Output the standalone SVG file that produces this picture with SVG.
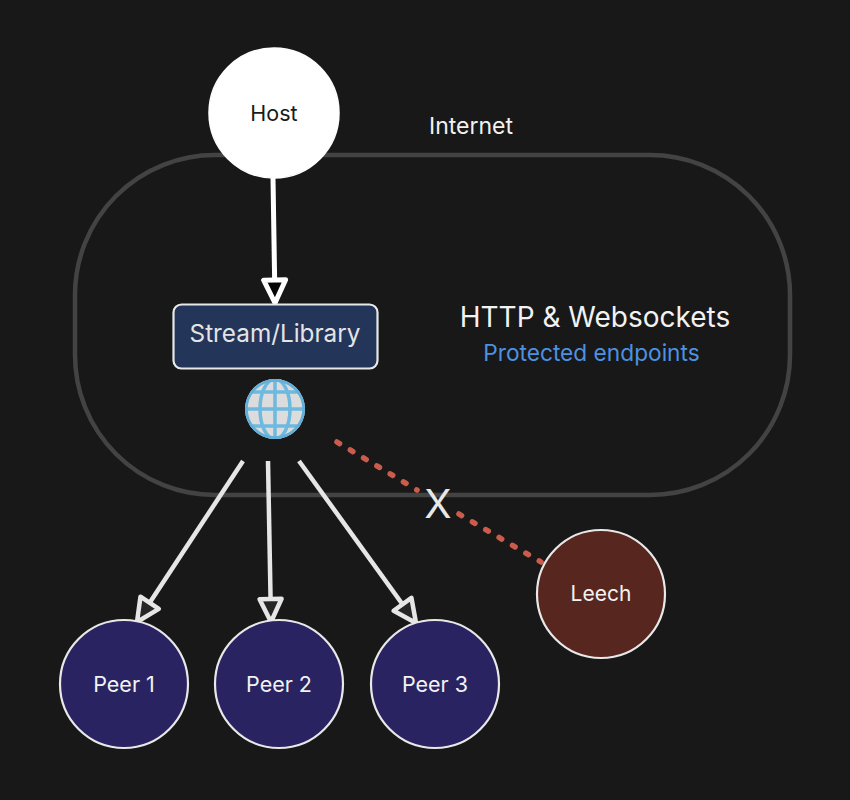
<svg xmlns="http://www.w3.org/2000/svg" width="850" height="800" viewBox="0 0 850 800">
<style>
text{font-family:Inter,"Liberation Sans",sans-serif;text-anchor:middle;fill:#f2f2f2}
.n{stroke:#e8e8e8;stroke-width:2.200}
.lbl{font-size:21.500px}
.a{stroke:#e6e6e6;stroke-width:4.500;fill:none;marker-end:url(#ah)}
.d{stroke:#cb5c4c;stroke-width:5.500;fill:none;stroke-linecap:round;stroke-dasharray:3 12.5}
.g{fill:none;stroke:#6db9e0;stroke-width:3.500}
</style>
<defs>
<marker id="ah" markerUnits="userSpaceOnUse" markerWidth="34" markerHeight="34" refX="26" refY="14" orient="auto" viewBox="0 0 34 28">
<path d="M3 3L26 14L3 25Z" fill="#262626" stroke="#e6e6e6" stroke-width="4.500" stroke-linejoin="round"/>
</marker>
<marker id="ahw" markerUnits="userSpaceOnUse" markerWidth="34" markerHeight="34" refX="26" refY="14" orient="auto" viewBox="0 0 34 28">
<path d="M3 3L26 14L3 25Z" fill="#050505" stroke="#fff" stroke-width="5" stroke-linejoin="round"/>
</marker>
<clipPath id="gc"><circle cx="275" cy="409" r="30"/></clipPath>
</defs>
<rect width="850" height="800" fill="#181818"/>
<g id="internet">
<rect x="75" y="155" width="715" height="340" rx="140" ry="140" fill="none" stroke="#434343" stroke-width="4.500"/>
<text x="471" y="134" font-size="23">Internet</text>
</g>
<g id="connectors">
<path d="M273 178L275 303" class="a" style="stroke:#fff;stroke-width:5;marker-end:url(#ahw)"/>
<path d="M243 461L137 622" class="a"/>
<path d="M268 461L271 622" class="a"/>
<path d="M299 461L416 623" class="a"/>
<path d="M337 442L417 490" class="d"/>
<path d="M459 514L541 562" class="d"/>
</g>
<g id="host">
<circle cx="274" cy="113" r="65" fill="#fff" stroke="#fff" stroke-width="1.500"/>
<text x="274" y="120.500" class="lbl" style="fill:#1a1a1a">Host</text>
</g>
<g id="stream-library">
<rect x="173.500" y="304.500" width="204" height="64" rx="8" fill="#24355a" class="n"/>
<text x="275" y="342" font-size="24.300" style="fill:#e4e4e4">Stream/Library</text>
</g>
<g id="globe">
<circle cx="275" cy="409" r="30" fill="#dcdcdc"/>
<g clip-path="url(#gc)">
<path class="g" d="M275 378V440M244 409H306M249 392H301M249 426H301"/>
<ellipse class="g" cx="275" cy="409" rx="15" ry="30"/>
<circle class="g" cx="275" cy="409" r="29" stroke-width="4.500" style="stroke:#62b0da"/>
</g>
</g>
<g id="details">
<text x="595" y="326.500" font-size="28">HTTP &amp; Websockets</text>
<text x="591.500" y="361" font-size="22.700" style="fill:#4d92e0">Protected endpoints</text>
<text x="438" y="518" font-size="40" style="fill:#e8e8e8">X</text>
</g>
<g id="peer-1">
<circle cx="124" cy="684" r="64" fill="#292361" class="n"/>
<text x="124" y="691.500" class="lbl">Peer 1</text>
</g>
<g id="peer-2">
<circle cx="279" cy="684" r="64" fill="#292361" class="n"/>
<text x="279" y="691.500" class="lbl">Peer 2</text>
</g>
<g id="peer-3">
<circle cx="435" cy="684" r="64" fill="#292361" class="n"/>
<text x="435" y="691.500" class="lbl">Peer 3</text>
</g>
<g id="leech">
<circle cx="601" cy="594" r="64" fill="#57261f" class="n"/>
<text x="601" y="601" font-size="21">Leech</text>
</g>
</svg>
